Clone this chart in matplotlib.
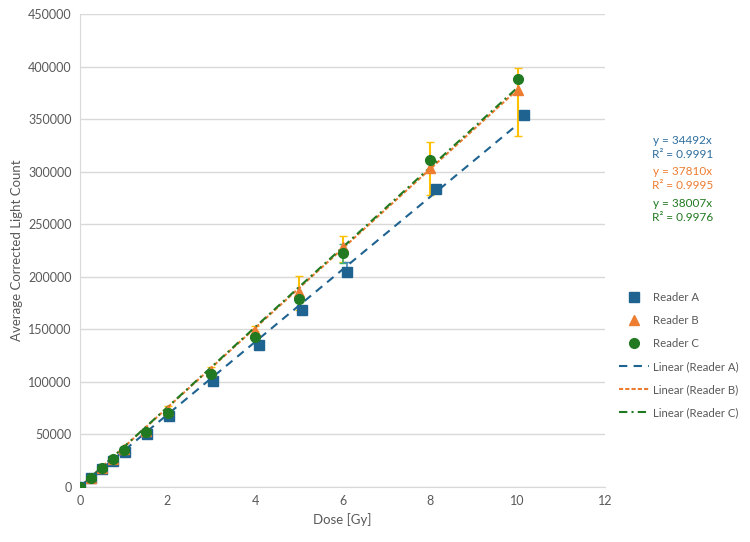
import matplotlib.pyplot as plt
import numpy as np

plt.rcParams['font.family'] = ['Lato', 'DejaVu Sans']

dose = [0, 0.25, 0.5, 0.75, 1, 1.5, 2, 3, 4, 5, 6, 8, 10]
dose_a = [0, 0.25, 0.51, 0.76, 1.02, 1.52, 2.03, 3.05, 4.08, 5.07, 6.1, 8.13, 10.15]
reader_a = [0, 8500, 17000, 25000, 33300, 50400, 67500, 100800, 135000, 168000, 204400, 284000, 353600]
reader_b = [0, 8800, 18200, 27000, 36000, 53500, 73000, 110000, 148300, 185400, 228000, 304000, 377400]
reader_c = [0, 8500, 18000, 26600, 35200, 52300, 70300, 107400, 142600, 178700, 222400, 310800, 387800]
err_b_lo = [0, 0, 0, 0, 0, 0, 0, 0, 0, 17400, 14000, 26400, 43700]
err_b_hi = [0, 0, 0, 0, 0, 0, 4000, 4000, 4700, 15200, 10600, 24000, 21600]
err_c = [0, 0, 0, 0, 0, 0, 0, 0, 0, 0, 9000, 0, 0]
err_a_hi = [0, 0, 0, 0, 0, 0, 0, 0, 0, 0, 9500, 0, 0]
slopes = [34492, 37810, 38007]
r2 = [0.9991, 0.9995, 0.9976]

c_a, c_b, c_c = '#1f6391', '#ed7d31', '#217a21'
gold = '#ffc000'

fig = plt.figure(figsize=(7.5, 5.42), dpi=100)
ax = fig.add_axes([0.1067, 0.1015, 0.7, 0.8725])

ax.errorbar(dose, reader_b, yerr=[err_b_lo, err_b_hi], fmt='none', ecolor=gold,
            elinewidth=1.5, capsize=3, zorder=2)
ax.errorbar(dose, reader_c, yerr=err_c, fmt='none', ecolor='#3cb371',
            elinewidth=1.2, capsize=3, zorder=2)
ax.errorbar(dose_a, reader_a, yerr=[[0] * len(err_a_hi), err_a_hi], fmt='none',
            ecolor='#4a8ab8', elinewidth=1.2, capsize=3, zorder=2)

ax.plot(dose_a, reader_a, 's', color=c_a, ms=7, label='Reader A', zorder=4)
ax.plot(dose, reader_b, '^', color=c_b, ms=7, label='Reader B', zorder=4)
ax.plot(dose, reader_c, 'o', color=c_c, ms=7, label='Reader C', zorder=5)

xf = np.array([0, 10])
ax.plot(xf, slopes[0] * xf, color=c_a, ls=(0, (4, 3)), lw=1.5, label='Linear (Reader A)', zorder=3)
ax.plot(xf, slopes[1] * xf, color=c_b, ls=(0, (2, 1)), lw=1.5, label='Linear (Reader B)', zorder=3)
ax.plot(xf, slopes[2] * xf, color=c_c, ls=(0, (4, 2, 1, 2)), lw=1.5, label='Linear (Reader C)', zorder=3)

ax.set_xlim(0, 12)
ax.set_ylim(0, 450000)
ax.set_xticks(range(0, 13, 2))
ax.set_yticks(range(0, 450001, 50000))
ax.yaxis.grid(True, color='#d9d9d9', lw=1)
ax.set_axisbelow(True)
for s in ['top', 'right']:
    ax.spines[s].set_visible(False)
ax.spines['left'].set_color('#d9d9d9')
ax.spines['bottom'].set_color('#d9d9d9')
ax.tick_params(length=0, labelsize=9, colors='#595959', pad=6)
ax.set_xlabel('Dose [Gy]', fontsize=9.5, color='#595959')
ax.set_ylabel('Average Corrected Light Count', fontsize=9.5, color='#595959')

eq_colors = ['#2e6e9e', c_b, c_c]
ys = [0.728, 0.670, 0.612]
for s, r, c, y in zip(slopes, r2, eq_colors, ys):
    fig.text(0.91, y, f'y = {s}x\nR² = {r:.4f}', color=c, fontsize=8.5,
             ha='center', va='center', linespacing=1.35)

fig.legend(loc='upper left', bbox_to_anchor=(0.812, 0.48), frameon=False,
           fontsize=8.2, labelcolor='#595959', labelspacing=1.05,
           handlelength=2.6, handletextpad=0.35)

fig.savefig('out.png', dpi=100)
